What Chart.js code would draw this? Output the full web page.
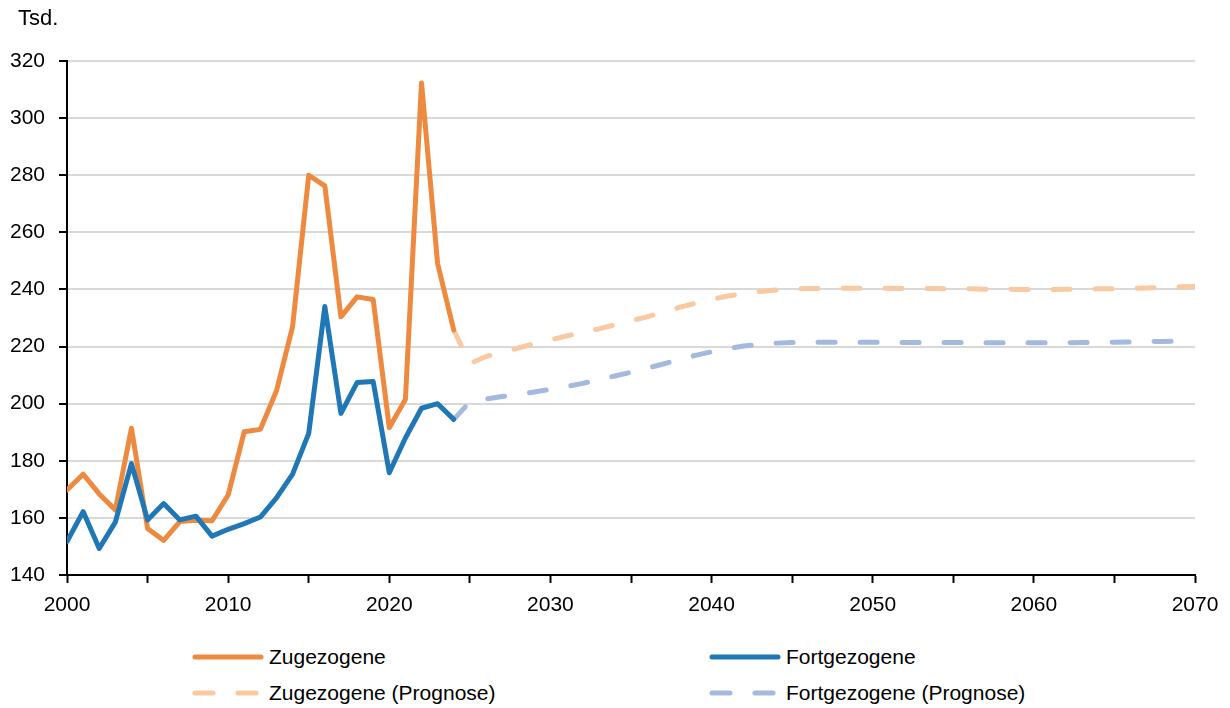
<!DOCTYPE html>
<html>
<head>
<meta charset="utf-8">
<script src="https://cdn.jsdelivr.net/npm/chart.js@4"></script>
<style>
  body { margin: 0; background: #fff; font-family: "Liberation Sans", Arial, sans-serif; }
  #wrap { position: relative; width: 1230px; height: 708px; }
  #unit { position: absolute; left: 18px; top: 5px; font-size: 22px; color: #000; }
  #legend { position: absolute; left: 0; top: 638px; width: 1230px; }
  .item { position: absolute; display: flex; align-items: center; font-size: 21px; color: #000; }
  .item svg { margin-right: 5px; }
</style>
</head>
<body>
<div id="wrap">
  <canvas id="migChart" width="1230" height="625"></canvas>
  <div id="unit">Tsd.</div>
  <div id="legend"></div>
</div>
<script>
const histYears = [2000, 2001, 2002, 2003, 2004, 2005, 2006, 2007, 2008, 2009, 2010, 2011, 2012,
  2013, 2014, 2015, 2016, 2017, 2018, 2019, 2020, 2021, 2022, 2023, 2024];
const zugezogene = [169.8, 175.3, 168.4, 162.8, 191.4, 156.3, 152.1, 158.7, 159.2, 159.0, 168.0, 190.2, 191.0,
  204.5, 227.0, 280.0, 276.3, 230.4, 237.4, 236.5, 191.6, 201.5, 312.3, 249.0, 225.8];
const fortgezogene = [151.7, 162.2, 149.3, 158.5, 179.0, 159.3, 165.0, 159.3, 160.6, 153.6, 156.0, 158.0, 160.3,
  167.0, 175.3, 189.6, 234.0, 196.6, 207.4, 207.8, 175.8, 188.0, 198.4, 200.0, 194.5];

const progYears = [2024, 2025, 2026, 2027, 2028, 2029, 2030, 2031, 2032, 2033, 2034, 2035, 2036, 2037,
  2038, 2039, 2040, 2041, 2042, 2043, 2044, 2045, 2046, 2047, 2048, 2049, 2050, 2051, 2052, 2053, 2054,
  2055, 2056, 2057, 2058, 2059, 2060, 2061, 2062, 2063, 2064, 2065, 2066, 2067, 2068, 2069, 2070];
const zugezogeneProg = [225.8, 214.0, 216.5, 218.0, 219.5, 221.0, 222.3, 223.7, 225.0, 226.2, 227.6, 229.0,
  230.4, 232.0, 233.7, 235.2, 236.5, 237.7, 238.6, 239.3, 239.8, 240.1, 240.3, 240.4, 240.4, 240.4, 240.4,
  240.4, 240.3, 240.3, 240.3, 240.2, 240.2, 240.1, 240.1, 240.0, 240.0, 240.0, 240.1, 240.1, 240.2, 240.2,
  240.3, 240.5, 240.7, 240.9, 241.0];
const fortgezogeneProg = [194.5, 200.6, 201.6, 202.5, 203.3, 204.1, 205.0, 206.0, 207.1, 208.4, 209.7, 211.0,
  212.4, 213.9, 215.4, 216.9, 218.2, 219.3, 220.2, 220.8, 221.2, 221.4, 221.5, 221.5, 221.5, 221.5, 221.5,
  221.5, 221.4, 221.4, 221.4, 221.4, 221.4, 221.3, 221.3, 221.3, 221.3, 221.3, 221.3, 221.4, 221.4, 221.5,
  221.6, 221.7, 221.8, 221.9, 222.0];

const yTicks = [140, 160, 180, 200, 220, 240, 260, 280, 300, 320];

function toPoints(years, values) {
  return years.map((y, i) => ({ x: y, y: values[i] }));
}

const series = [
  { label: 'Fortgezogene', data: toPoints(histYears, fortgezogene), color: '#2077b5', dash: [], order: 1 },
  { label: 'Zugezogene', data: toPoints(histYears, zugezogene), color: '#ed8a3f', dash: [], order: 2 },
  { label: 'Fortgezogene (Prognose)', data: toPoints(progYears, fortgezogeneProg), color: '#a3b9dd', dash: [17, 25], order: 3 },
  { label: 'Zugezogene (Prognose)', data: toPoints(progYears, zugezogeneProg), color: '#f9c9a2', dash: [17, 25], order: 4 }
];

const datasets = series.map(s => ({
  label: s.label,
  data: s.data,
  borderColor: s.color,
  backgroundColor: s.color,
  borderWidth: 5,
  borderDash: s.dash,
  borderCapStyle: 'round',
  borderJoinStyle: 'round',
  pointRadius: 0,
  tension: 0,
  order: s.order
}));

new Chart(document.getElementById('migChart'), {
  type: 'line',
  data: { datasets },
  options: {
    responsive: false,
    animation: false,
    layout: { padding: { top: 61, right: 35, left: 0, bottom: 0 } },
    plugins: { legend: { display: false }, tooltip: { enabled: false } },
    scales: {
      x: {
        type: 'linear',
        min: 2000,
        max: 2070,
        afterFit: scale => { scale.height = 50; },
        border: { color: '#000', width: 2 },
        grid: { drawOnChartArea: false, drawTicks: true, tickLength: 8, tickColor: '#000', tickWidth: 2 },
        ticks: {
          stepSize: 5,
          autoSkip: false,
          maxRotation: 0,
          padding: 10,
          color: '#000',
          font: { family: 'Liberation Sans', size: 21 },
          callback: v => (v % 10 === 0 ? String(v) : '')
        }
      },
      y: {
        min: 140,
        max: 320,
        afterFit: scale => { scale.width = 67; },
        afterBuildTicks: scale => { scale.ticks = yTicks.map(v => ({ value: v })); },
        border: { color: '#000', width: 2 },
        grid: { color: '#d9d9d9', lineWidth: 2, tickLength: 8, tickColor: '#000', tickWidth: 2 },
        ticks: {
          padding: 14,
          color: '#000',
          font: { family: 'Liberation Sans', size: 21 }
        }
      }
    }
  }
});

// legend in two columns, built from the series
const legendPos = {
  'Zugezogene': [192, 19],
  'Fortgezogene': [709, 19],
  'Zugezogene (Prognose)': [192, 55],
  'Fortgezogene (Prognose)': [709, 55]
};
const legend = document.getElementById('legend');
series.forEach(s => {
  const [left, cy] = legendPos[s.label];
  const item = document.createElement('div');
  item.className = 'item';
  item.style.left = left + 'px';
  item.style.top = (cy - 13) + 'px';
  const dash = s.dash.length ? 'stroke-dasharray="18 25"' : '';
  item.innerHTML = '<svg width="72" height="26"><line x1="3" y1="13" x2="69" y2="13" stroke="' + s.color +
    '" stroke-width="5" stroke-linecap="round" ' + dash + '/></svg><span>' + s.label + '</span>';
  legend.appendChild(item);
});
</script>
</body>
</html>
